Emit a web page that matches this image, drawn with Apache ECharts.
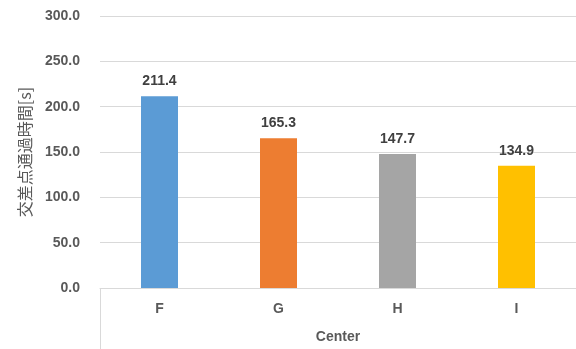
<!DOCTYPE html>
<html>
<head>
<meta charset="utf-8">
<script src="https://cdn.jsdelivr.net/npm/echarts@6/dist/echarts.min.js"></script>
<style>
  html, body { margin: 0; padding: 0; background: #fff; }
  #chart { width: 576px; height: 349px; }
</style>
</head>
<body>
<div id="chart"></div>
<script>
var categories = ['F', 'G', 'H', 'I'];
var values = [211.4, 165.3, 147.7, 134.9];
var barColors = ['#5B9BD5', '#ED7D31', '#A5A5A5', '#FFC000'];

var font = '"Liberation Sans", Arial, "Noto Sans CJK JP", sans-serif';

var myChart = echarts.init(document.getElementById('chart'));
myChart.setOption({
  animation: false,
  textStyle: { fontFamily: font },
  grid: { left: 100, right: 0, top: 16, bottom: 61 },
  xAxis: {
    type: 'category',
    data: categories,
    name: 'Center',
    nameLocation: 'middle',
    nameGap: 42,
    nameTextStyle: { color: '#595959', fontSize: 14, fontWeight: 'bold' },
    axisLine: { lineStyle: { color: '#D9D9D9' } },
    axisTick: { show: false },
    axisLabel: { color: '#595959', fontSize: 14, fontWeight: 'bold', margin: 14 }
  },
  yAxis: {
    type: 'value',
    min: 0,
    max: 300,
    interval: 50,
    name: '交差点通過時間[s]',
    nameLocation: 'middle',
    nameGap: 67,
    nameTextStyle: { color: '#595959', fontSize: 16, fontWeight: 'normal', fontFamily: '"Noto Sans CJK JP", sans-serif' },
    axisLine: { show: false },
    axisTick: { show: false },
    splitLine: { lineStyle: { color: '#D9D9D9' } },
    axisLabel: {
      color: '#595959', fontSize: 14, fontWeight: 'bold', margin: 20,
      formatter: function (v) { return v.toFixed(1); }
    }
  },
  graphic: [{
    type: 'line',
    shape: { x1: 100.5, y1: 288, x2: 100.5, y2: 349 },
    style: { stroke: '#D9D9D9', lineWidth: 1 }
  }],
  series: [{
    type: 'bar',
    barWidth: 37,
    data: values.map(function (v, i) {
      return { value: v, itemStyle: { color: barColors[i] } };
    }),
    label: {
      show: true,
      position: 'top',
      distance: 8,
      color: '#404040',
      fontSize: 14,
      fontWeight: 'bold',
      formatter: function (p) { return p.value.toFixed(1); }
    }
  }]
});
</script>
</body>
</html>
